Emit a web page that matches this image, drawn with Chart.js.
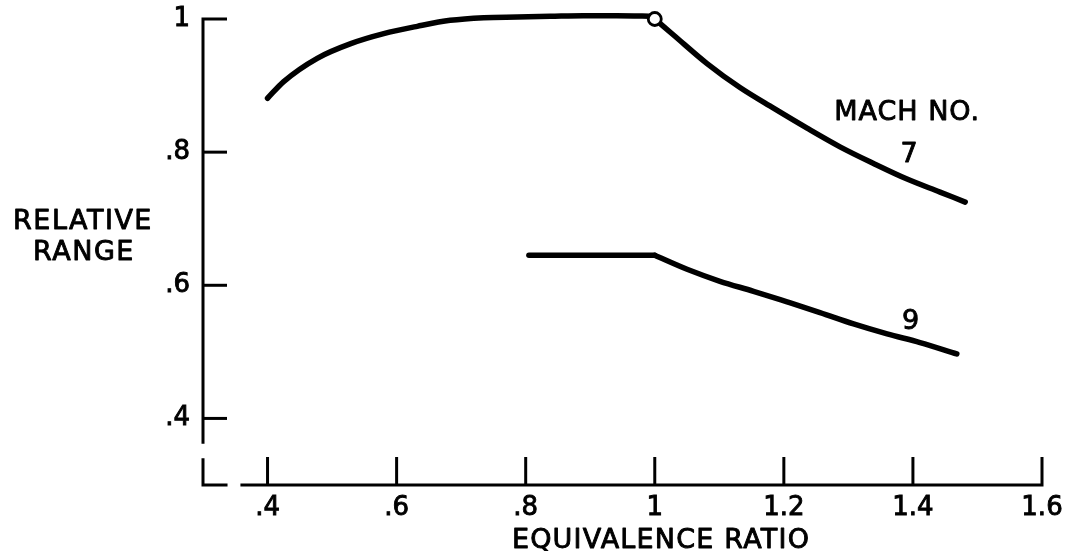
<!DOCTYPE html>
<html>
<head>
<meta charset="utf-8">
<script src="https://cdn.jsdelivr.net/npm/chart.js@4.4.1/dist/chart.umd.min.js"></script>
<style>
  html, body { margin: 0; padding: 0; background: #fff; }
  canvas { display: block; }
</style>
</head>
<body>
<canvas id="c" width="1065" height="551"></canvas>
<script>
// ---- data ----
const xTickValues = [0.4, 0.6, 0.8, 1.0, 1.2, 1.4, 1.6];
const xTickLabels = ['.4', '.6', '.8', '1', '1.2', '1.4', '1.6'];
const yTickValues = [0.4, 0.6, 0.8, 1.0];
const yTickLabels = ['.4', '.6', '.8', '1'];

// Mach 7: rising branch up to the open circle, then falling branch
const phiMach7Rise   = [0.400, 0.425, 0.477, 0.529, 0.580, 0.632, 0.683, 0.735, 0.787, 0.838, 0.889, 0.941, 1.000];
const rangeMach7Rise = [0.881, 0.906, 0.941, 0.963, 0.978, 0.989, 0.998, 1.002, 1.003, 1.004, 1.005, 1.005, 1.004];
const phiMach7Fall   = [1.000, 1.029, 1.081, 1.132, 1.184, 1.236, 1.287, 1.339, 1.390, 1.442, 1.481];
const rangeMach7Fall = [1.000, 0.976, 0.933, 0.897, 0.866, 0.836, 0.808, 0.783, 0.760, 0.740, 0.725];

// Mach 9: flat part then falling branch
const phiMach9Flat   = [0.805, 1.000];
const rangeMach9Flat = [0.645, 0.645];
const phiMach9Fall   = [1.000, 1.050, 1.101, 1.153, 1.205, 1.256, 1.308, 1.360, 1.411, 1.468];
const rangeMach9Fall = [0.645, 0.624, 0.606, 0.591, 0.575, 0.559, 0.542, 0.527, 0.514, 0.497];

// open circle marker
const circlePhi   = [1.0];
const circleRange = [1.0];

// annotations (text, phi, range at text baseline)
const annotTexts = ['MACH NO.', '7', '9'];
const annotPhi   = [1.391, 1.395, 1.397];
const annotRange = [0.848, 0.785, 0.535];

const xMin = 0.3, xMax = 1.6, yMin = 0.3, yMax = 1.0;
const xBreak = [0.338, 0.358];
const yBreak = [0.340, 0.362];

// ---- helpers ----
const toPts = (xs, ys) => xs.map((x, i) => ({ x: x, y: ys[i] }));
const FONT = "'DejaVu Sans', 'Liberation Sans', sans-serif";

const lineStyle = {
  borderColor: '#000',
  borderWidth: 5.5,
  pointRadius: 0,
  fill: false,
  clip: false,
  cubicInterpolationMode: 'monotone',
  borderCapStyle: 'round',
  borderJoinStyle: 'round'
};

const axesPlugin = {
  id: 'oldAxes',
  beforeDatasetsDraw(chart) {
    const { ctx, scales: { x, y } } = chart;
    const X = v => x.getPixelForValue(v);
    const Y = v => y.getPixelForValue(v);
    const x0 = X(xMin), x1 = X(xMax), y0 = Y(yMin), yT = Y(yMax);
    const yTick = 24, xTick = 28;
    ctx.save();
    ctx.strokeStyle = '#000';
    ctx.lineWidth = 3;
    ctx.lineJoin = 'miter';
    ctx.lineCap = 'butt';
    const path = pts => {
      ctx.beginPath();
      ctx.moveTo(pts[0][0], pts[0][1]);
      for (let i = 1; i < pts.length; i++) ctx.lineTo(pts[i][0], pts[i][1]);
      ctx.stroke();
    };
    path([[x0 + yTick, yT], [x0, yT], [x0, Y(yBreak[1])]]);
    path([[x0, Y(yBreak[0])], [x0, y0], [X(xBreak[0]), y0]]);
    path([[X(xBreak[1]), y0], [x1, y0], [x1, y0 - xTick]]);
    yTickValues.forEach(v => { if (v !== yMax) path([[x0, Y(v)], [x0 + yTick, Y(v)]]); });
    xTickValues.forEach(v => { if (v !== xMax) path([[X(v), y0], [X(v), y0 - xTick]]); });
    ctx.restore();
  }
};

const textPlugin = {
  id: 'texts',
  afterDraw(chart) {
    const { ctx, scales: { x, y } } = chart;
    ctx.save();
    ctx.fillStyle = '#000';
    ctx.strokeStyle = '#000';
    ctx.lineWidth = 0.9;
    ctx.lineJoin = 'round';
    ctx.textAlign = 'center';
    ctx.textBaseline = 'alphabetic';
    ctx.font = '27px ' + FONT;
    try { ctx.letterSpacing = '1.5px'; } catch (e) {}
    const put = (t, px, py) => { ctx.strokeText(t, px, py); ctx.fillText(t, px, py); };
    put('RELATIVE', 83, 229);
    put('RANGE', 84, 260);
    try { ctx.letterSpacing = '1.2px'; } catch (e) {}
    put('EQUIVALENCE RATIO', 661, 548);
    try { ctx.letterSpacing = '1px'; } catch (e) {}
    annotTexts.forEach((t, i) => {
      put(t, x.getPixelForValue(annotPhi[i]), y.getPixelForValue(annotRange[i]));
    });
    ctx.restore();
  }
};

new Chart(document.getElementById('c'), {
  type: 'line',
  data: {
    datasets: [
      {
        data: toPts(circlePhi, circleRange),
        showLine: false,
        pointRadius: 6.5,
        pointBorderWidth: 2.8,
        pointBackgroundColor: '#fff',
        pointBorderColor: '#000',
        clip: false
      },
      Object.assign({ data: toPts(phiMach7Rise, rangeMach7Rise) }, lineStyle),
      Object.assign({ data: toPts(phiMach7Fall, rangeMach7Fall) }, lineStyle),
      Object.assign({ data: toPts(phiMach9Flat, rangeMach9Flat) }, lineStyle),
      Object.assign({ data: toPts(phiMach9Fall, rangeMach9Fall) }, lineStyle)
    ]
  },
  options: {
    responsive: false,
    animation: false,
    events: [],
    layout: { padding: { top: 19, right: 23, left: 0, bottom: 0 } },
    plugins: { legend: { display: false }, tooltip: { enabled: false } },
    scales: {
      x: {
        type: 'linear',
        min: xMin, max: xMax,
        afterFit: s => { s.height = 66; s.paddingLeft = 0; s.paddingRight = 0; },
        afterBuildTicks: s => { s.ticks = xTickValues.map(v => ({ value: v })); },
        grid: { display: false, drawTicks: false },
        border: { display: false },
        ticks: {
          autoSkip: false, maxRotation: 0, minRotation: 0,
          padding: 8,
          color: '#000',
          textStrokeColor: '#000',
          textStrokeWidth: 0.9,
          font: { family: FONT, size: 26 },
          callback: (v) => { const i = xTickValues.findIndex(t => Math.abs(t - v) < 1e-9); return i >= 0 ? xTickLabels[i] : ''; }
        }
      },
      y: {
        type: 'linear',
        min: yMin, max: yMax,
        afterFit: s => { s.width = 203; s.paddingTop = 0; s.paddingBottom = 0; },
        afterBuildTicks: s => { s.ticks = yTickValues.map(v => ({ value: v })); },
        grid: { display: false, drawTicks: false },
        border: { display: false },
        ticks: {
          autoSkip: false,
          padding: 13,
          color: '#000',
          textStrokeColor: '#000',
          textStrokeWidth: 0.9,
          font: { family: FONT, size: 26 },
          callback: (v) => { const i = yTickValues.findIndex(t => Math.abs(t - v) < 1e-9); return i >= 0 ? yTickLabels[i] : ''; }
        }
      }
    }
  },
  plugins: [axesPlugin, textPlugin]
});
</script>
</body>
</html>
